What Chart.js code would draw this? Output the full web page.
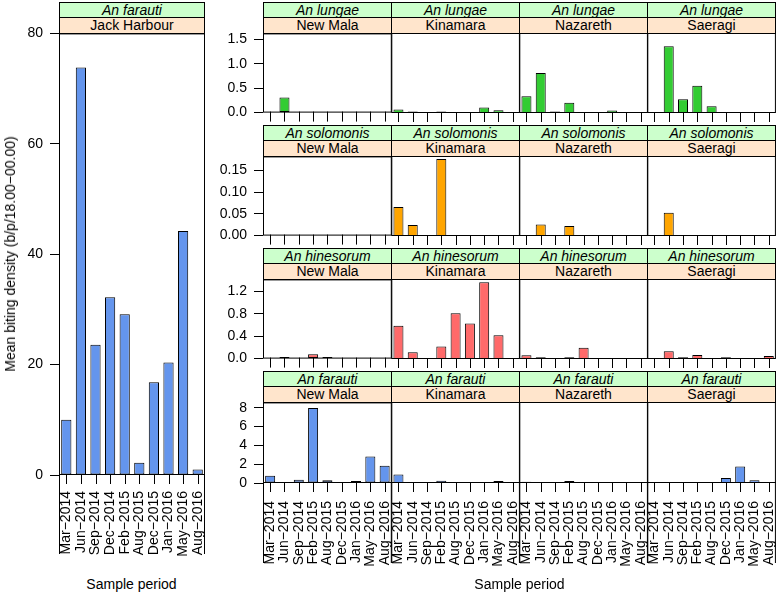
<!DOCTYPE html>
<html>
<head>
<meta charset="utf-8">
<script src="https://cdn.jsdelivr.net/npm/chart.js@4/dist/chart.umd.min.js"></script>
<style>
  html, body { margin: 0; padding: 0; background: #fff; }
  #wrap { position: relative; width: 778px; height: 592px; overflow: hidden; font-family: 'Liberation Sans', Arial, sans-serif; font-size: 14px; color: #000; }
  canvas { position: absolute; }
  .strip { position: absolute; box-sizing: border-box; border: 1px solid #000; text-align: center; font-size: 14px; line-height: 14px; white-space: nowrap; overflow: hidden; }
  .sp { background: #CCFFCC; font-style: italic; }
  .site { background: #FFE5CC; }
  .lab { position: absolute; white-space: nowrap; font-size: 14px; }
</style>
</head>
<body>
<div id="wrap"></div>
<script>
// ---------------- DATA ----------------
const leftCats = ["Mar−2014","Jun−2014","Sep−2014","Dec−2014","Feb−2015","Aug−2015","Dec−2015","Jan−2016","May−2016","Aug−2016"];
const gridCats = ["Mar−2014","Jun−2014","Sep−2014","Feb−2015","Aug−2015","Dec−2015","Jan−2016","May−2016","Aug−2016"];
const sites = ["New Mala","Kinamara","Nazareth","Saeragi"];
const species = ["An lungae","An solomonis","An hinesorum","An farauti"];

const farautiJackHarbour = [10.0, 73.8, 23.6, 32.2, 29.1, 2.2, 16.8, 20.4, 44.2, 1.0];

const lungaeNewMala  = [0, 0.31, 0, 0, 0, 0, 0, 0, 0];
const lungaeKinamara = [0.07, 0.03, 0, 0.03, 0, 0, 0.11, 0.055, 0];
const lungaeNazareth = [0.34, 0.81, 0.03, 0.21, 0, 0, 0.05, 0, 0];
const lungaeSaeragi  = [0, 1.35, 0.28, 0.55, 0.135, 0, 0, 0, 0];

const solomonisNewMala  = [0, 0, 0, 0, 0, 0, 0, 0, 0];
const solomonisKinamara = [0.066, 0.025, 0, 0.175, 0, 0, 0, 0, 0];
const solomonisNazareth = [0, 0.026, 0, 0.023, 0, 0, 0, 0, 0];
const solomonisSaeragi  = [0, 0.053, 0, 0, 0, 0, 0, 0, 0];

const hinesorumNewMala  = [0, 0.03, 0, 0.08, 0.03, 0, 0, 0, 0];
const hinesorumKinamara = [0.59, 0.12, 0, 0.22, 0.81, 0.63, 1.36, 0.42, 0];
const hinesorumNazareth = [0.065, 0.03, 0, 0.03, 0.2, 0, 0, 0, 0];
const hinesorumSaeragi  = [0, 0.136, 0.03, 0.07, 0, 0.03, 0, 0, 0.055];

const farautiNewMala  = [0.78, 0, 0.35, 7.96, 0.28, 0, 0.2, 2.82, 1.82];
const farautiKinamara = [0.89, 0, 0.1, 0.25, 0, 0, 0.1, 0.2, 0];
const farautiNazareth = [0.12, 0, 0.05, 0.2, 0, 0.03, 0, 0.1, 0];
const farautiSaeragi  = [0, 0.08, 0, 0.1, 0, 0.54, 1.75, 0.3, 0];

const jackTicks      = ["0","20","40","60","80"];
const lungaeTicks    = ["0.0","0.5","1.0","1.5"];
const solomonisTicks = ["0.00","0.05","0.10","0.15"];
const hinesorumTicks = ["0.0","0.4","0.8","1.2"];
const farautiTicks   = ["0","2","4","6","8"];

// axis ranges
const jackMax = 80, lungaeMax = 1.62, solomonisMax = 0.182, hinesorumMax = 1.418, farautiMax = 8.56;

// ---------------- STYLE / LAYOUT ----------------
const colLungae = "#33CC33", colSolomonis = "#FFA500", colHinesorum = "#FF6A6A", colFarauti = "#6495ED";
const colLeft = [263, 391, 519, 647];
const colW = 129;
const rowTop = [33, 156, 279, 402];
const rowH = [80, 80, 80, 81];
const TICK_LEN = 9;

Chart.defaults.font.family = "'Liberation Sans', Arial, sans-serif";
Chart.defaults.font.size = 14;
Chart.defaults.color = "#000";

const boxPlugin = {
  id: 'panelBox',
  afterDraw(chart, args, opts) {
    const ctx = chart.ctx, a = chart.chartArea;
    ctx.save();
    ctx.strokeStyle = '#000';
    ctx.lineWidth = 1;
    ctx.strokeRect(a.left + 0.5, a.top + 0.5, a.right - a.left - 1, a.bottom - a.top - 1);
    ctx.beginPath();
    if (opts.ext) {
      ctx.moveTo(a.left + 0.5, a.bottom - 1); ctx.lineTo(a.left + 0.5, a.bottom + opts.ext);
      ctx.moveTo(a.right - 0.5, a.bottom - 1); ctx.lineTo(a.right - 0.5, a.bottom + opts.ext);
    }
    // x tick marks at every category (through the library's x scale)
    const xs = chart.scales.x;
    for (let i = 0; i < xs.ticks.length; i++) {
      const px = Math.round(xs.getPixelForTick(i)) + 0.5;
      ctx.moveTo(px, a.bottom - 1);
      ctx.lineTo(px, a.bottom + TICK_LEN);
    }
    ctx.stroke();
    ctx.restore();
  }
};

const wrap = document.getElementById('wrap');

function addStrip(left, top, width, spName, siteName) {
  const g = document.createElement('div');
  g.className = 'strip sp';
  g.style.left = left + 'px'; g.style.top = (top - 31) + 'px';
  g.style.width = width + 'px'; g.style.height = '16px';
  g.textContent = spName;
  wrap.appendChild(g);
  const o = document.createElement('div');
  o.className = 'strip site';
  o.style.left = left + 'px'; o.style.top = (top - 16) + 'px';
  o.style.width = width + 'px'; o.style.height = '17px';
  o.textContent = siteName;
  wrap.appendChild(o);
}

function buildChart(p, g) {
  const cv = document.createElement('canvas');
  cv.width = g.cw; cv.height = g.ch;
  cv.style.left = g.cl + 'px';
  cv.style.top = g.ct + 'px';
  cv.style.width = g.cw + 'px'; cv.style.height = g.ch + 'px';
  wrap.appendChild(cv);
  const chart = new Chart(cv, {
    type: 'bar',
    data: {
      labels: p.cats,
      datasets: [{
        data: p.data,
        backgroundColor: p.color,
        borderColor: '#000',
        borderWidth: 1,
        borderSkipped: false,
        barPercentage: 0.7,
        categoryPercentage: 1.0
      }]
    },
    options: {
      responsive: false,
      animation: false,
      events: [],
      layout: { padding: { top: g.padTop, left: g.padL, right: g.padR, bottom: 0 } },
      plugins: { legend: { display: false }, tooltip: { enabled: false }, panelBox: { ext: p.ext || 0 } },
      scales: {
        x: {
          type: 'category',
          offset: true,
          grid: { display: false, drawTicks: false, tickLength: 0, offset: false },
          border: { display: false },
          ticks: {
            display: true, autoSkip: false, minRotation: 90, maxRotation: 90,
            padding: TICK_LEN + (p.xPad || 7), color: '#000', font: { size: 14 },
            callback: function (v, i) { return p.showXLabels ? this.getLabelForValue(v) : ''; }
          },
          afterFit(ax) { ax.height = g.xH; }
        },
        y: {
          display: !!p.showY,
          min: 0,
          max: p.yMax,
          grid: { display: true, drawOnChartArea: false, drawTicks: true, tickLength: TICK_LEN, color: '#000', lineWidth: 1 },
          border: { display: false },
          ticks: { autoSkip: false, padding: 7, color: '#000', font: { size: 14 }, callback: (v, i) => p.yTicks[i] },
          afterBuildTicks(ax) { ax.ticks = p.yTicks.map(s => ({ value: parseFloat(s) })); },
          afterFit(ax) { ax.width = g.yW; }
        }
      }
    },
    plugins: [boxPlugin]
  });
  return { chart, cv };
}

function makePanel(p) {
  const padTop = 12;
  const yW = p.showY ? p.yW : 0;
  const padL = p.showY ? 0 : 8;
  const padR = 10;
  const xH = p.showXLabels ? 95 : 10;
  const g = { padTop, padL, padR, xH, yW,
    cl: p.left - yW - padL, ct: p.top - padTop,
    cw: yW + padL + p.width + padR, ch: padTop + p.height + xH };
  let built = buildChart(p, g);
  for (let k = 0; k < 3; k++) {
    const a = built.chart.chartArea;
    const dL = Math.round((g.cl + a.left) - p.left);
    const dT = Math.round((g.ct + a.top) - p.top);
    const dR = Math.round((p.left + p.width) - (g.cl + a.right));
    const dB = Math.round((p.top + p.height) - (g.ct + a.bottom));
    if (!dL && !dT && !dR && !dB) break;
    built.chart.destroy();
    built.cv.remove();
    g.cl -= dL; g.cw += dL + dR;
    g.ct -= dT; g.ch += dT + dB;
    built = buildChart(p, g);
  }
}

// Left panel: Jack Harbour
addStrip(59, 33, 146, "An farauti", "Jack Harbour");
makePanel({ left: 59, top: 33, width: 146, height: 442, cats: leftCats, data: farautiJackHarbour,
  color: colFarauti, yMax: jackMax, yTicks: jackTicks, showY: true, yW: 59, showXLabels: true, xPad: 7, ext: 79 });

// Right grid
const gridRows = [
  { sp: species[0], vals: [lungaeNewMala, lungaeKinamara, lungaeNazareth, lungaeSaeragi], ticks: lungaeTicks, max: lungaeMax, color: colLungae },
  { sp: species[1], vals: [solomonisNewMala, solomonisKinamara, solomonisNazareth, solomonisSaeragi], ticks: solomonisTicks, max: solomonisMax, color: colSolomonis },
  { sp: species[2], vals: [hinesorumNewMala, hinesorumKinamara, hinesorumNazareth, hinesorumSaeragi], ticks: hinesorumTicks, max: hinesorumMax, color: colHinesorum },
  { sp: species[3], vals: [farautiNewMala, farautiKinamara, farautiNazareth, farautiSaeragi], ticks: farautiTicks, max: farautiMax, color: colFarauti }
];

gridRows.forEach((row, r) => {
  sites.forEach((site, c) => {
    addStrip(colLeft[c], rowTop[r], colW, row.sp, site);
    const bottom = (r === gridRows.length - 1);
    makePanel({ left: colLeft[c], top: rowTop[r], width: colW, height: rowH[r], cats: gridCats, data: row.vals[c],
      color: row.color, yMax: row.max, yTicks: row.ticks, showY: c === 0, yW: 60,
      showXLabels: bottom, xPad: 9, ext: bottom ? 80 : 0 });
  });
});

// Axis titles
function addLabel(text, cx, cy, rot) {
  const d = document.createElement('div');
  d.className = 'lab';
  d.textContent = text;
  d.style.left = cx + 'px'; d.style.top = cy + 'px';
  d.style.transform = 'translate(-50%, -50%)' + (rot ? ' rotate(' + rot + 'deg)' : '');
  wrap.appendChild(d);
}
addLabel("Mean biting density (b/p/18.00−00.00)", 10, 254, -90);
addLabel("Sample period", 131.5, 584, 0);
addLabel("Sample period", 519.5, 584, 0);
</script>
</body>
</html>
